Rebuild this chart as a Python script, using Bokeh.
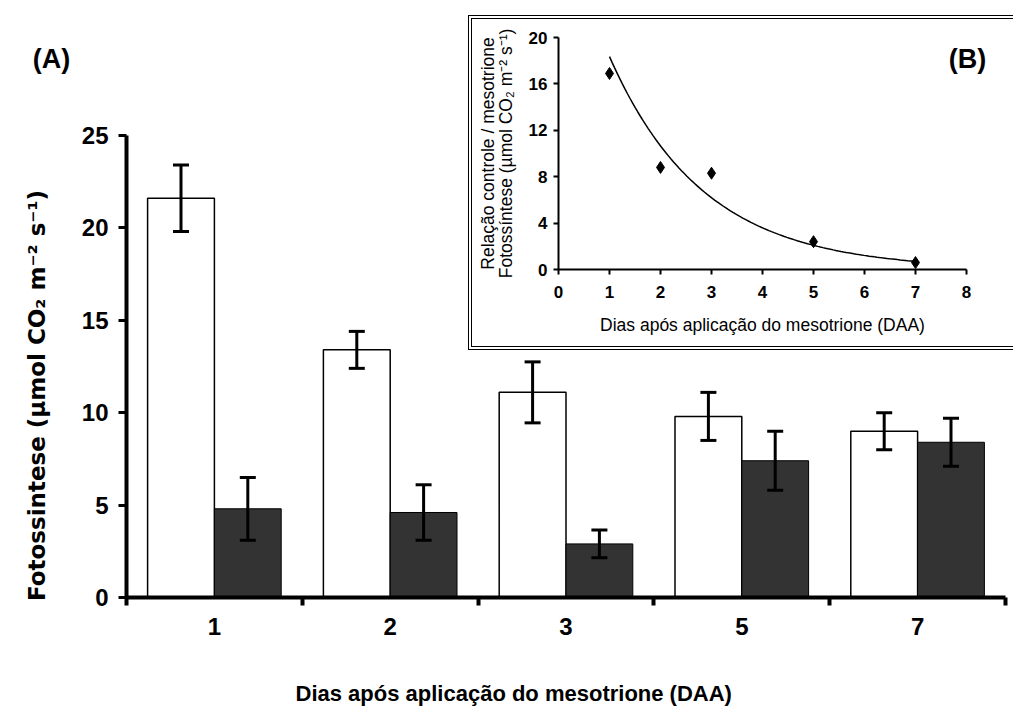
import numpy as np
from bokeh.plotting import figure
from bokeh.models import ColumnDataSource, Whisker, TeeHead, FixedTicker, Range1d, Title
from bokeh.core.properties import value
from bokeh.layouts import column
from bokeh.embed import file_html
from bokeh.resources import INLINE

# ---- data (A): photosynthesis by day ----
days = ["1", "2", "3", "5", "7"]
control = [21.6, 13.4, 11.1, 9.8, 9.0]
control_err = [1.8, 1.0, 1.65, 1.3, 1.0]
mesotrione = [4.8, 4.6, 2.9, 7.4, 8.4]
mesotrione_err = [1.7, 1.5, 0.75, 1.6, 1.3]
y_ticks = [0, 5, 10, 15, 20, 25]

# ---- data (B): ratio control / mesotrione ----
ratio_days = [1, 2, 3, 5, 7]
ratio = [16.9, 8.8, 8.3, 2.4, 0.6]
inset_x_ticks = [0, 1, 2, 3, 4, 5, 6, 7, 8]
inset_y_ticks = [0, 4, 8, 12, 16, 20]

FONT = "Liberation Sans"
DARK = "#333333"

pos = np.arange(1, len(days) + 1, dtype=float)
off = 0.19
bw = 0.38
src = ColumnDataSource(dict(
    xc=pos - off, xm=pos + off,
    control=control, meso=mesotrione,
    cu=np.array(control) + np.array(control_err),
    cl=np.array(control) - np.array(control_err),
    mu=np.array(mesotrione) + np.array(mesotrione_err),
    ml=np.array(mesotrione) - np.array(mesotrione_err),
))

p = figure(width=1013, height=711, x_range=Range1d(0.5, 5.5), y_range=Range1d(0, 25),
           output_backend="svg", toolbar_location=None,
           min_border_left=126, min_border_right=8, min_border_top=135, min_border_bottom=114)
p.outline_line_color = None
p.xgrid.visible = False
p.ygrid.visible = False
p.background_fill_color = "white"
p.border_fill_color = "white"

p.vbar(x="xc", top="control", bottom=0, width=bw, fill_color="white",
       line_color="black", line_width=1.5, source=src)
p.vbar(x="xm", top="meso", bottom=0, width=bw, fill_color=DARK,
       line_color="black", line_width=1, source=src)

for base, up, lo in (("xc", "cu", "cl"), ("xm", "mu", "ml")):
    p.add_layout(Whisker(source=src, base=base, upper=up, lower=lo, level="annotation",
                         line_color="black", line_width=3,
                         upper_head=TeeHead(size=16, line_width=3, line_color="black"),
                         lower_head=TeeHead(size=16, line_width=3, line_color="black")))

xa = p.xaxis[0]
xa.ticker = FixedTicker(ticks=list(pos), minor_ticks=list(pos - 0.5) + [pos[-1] + 0.5])
xa.major_label_overrides = {float(v): d for v, d in zip(pos, days)}
xa.major_tick_out = 0
xa.major_tick_in = 0
xa.minor_tick_out = 8
xa.minor_tick_in = 0
xa.minor_tick_line_width = 4
xa.axis_line_width = 4
xa.major_label_standoff = 12
xa.major_label_text_font = FONT
xa.major_label_text_font_style = "bold"
xa.major_label_text_font_size = "24px"
xa.major_label_text_color = "black"

ya = p.yaxis[0]
ya.ticker = FixedTicker(ticks=y_ticks)
ya.major_tick_out = 8
ya.major_tick_in = 0
ya.minor_tick_out = 0
ya.minor_tick_in = 0
ya.major_tick_line_width = 3
ya.axis_line_width = 4
ya.major_label_standoff = 10
ya.major_label_text_font = FONT
ya.major_label_text_font_style = "bold"
ya.major_label_text_font_size = "24px"
ya.major_label_text_color = "black"

# ---- inset (B) ----
q = figure(width=541, height=327, x_range=Range1d(0, 8), y_range=Range1d(0, 20),
           output_backend="svg", toolbar_location=None,
           min_border_left=86, min_border_right=47, min_border_top=18, min_border_bottom=77,
           styles={"outline": "4px double #000", "outline-offset": "0px",
                   "background-color": "white"})
q.outline_line_color = None
q.xgrid.visible = False
q.ygrid.visible = False

coef = np.polyfit(ratio_days, np.log(ratio), 1)
xs = np.linspace(min(ratio_days), max(ratio_days), 120)
q.line(xs, np.exp(coef[1] + coef[0] * xs), line_color="black", line_width=1.5)
q.scatter(ratio_days, ratio, marker="diamond", size=12, color="black")

for ax, ticks in ((q.xaxis[0], inset_x_ticks), (q.yaxis[0], inset_y_ticks)):
    ax.ticker = FixedTicker(ticks=ticks)
    ax.axis_line_width = 2
    ax.major_tick_out = 5
    ax.major_tick_in = 0
    ax.major_tick_line_width = 2
    ax.minor_tick_out = 0
    ax.minor_tick_in = 0
    ax.major_label_text_font = FONT
    ax.major_label_text_font_style = "bold"
    ax.major_label_text_font_size = "17px"
    ax.major_label_text_color = "black"
    ax.axis_label_text_font = FONT
    ax.axis_label_text_font_style = "normal"
    ax.axis_label_text_font_size = "17.5px"
    ax.axis_label_text_color = "black"

q.xaxis[0].major_label_standoff = 11
q.xaxis[0].axis_label = "Dias após aplicação do mesotrione (DAA)"
q.xaxis[0].axis_label_standoff = 14
q.yaxis[0].major_label_standoff = 6
q.yaxis[0].axis_label = "Fotossíntese (µmol CO₂ m⁻² s⁻¹)"
q.yaxis[0].axis_label_standoff = 10
q.add_layout(Title(text="Relação controle / mesotrione", align="center", standoff=-10,
                   text_font=FONT, text_font_style="normal", text_font_size="17.5px",
                   text_color="black"), "left")

# ---- transparent text layer (page pixel coordinates) for panel letters and main axis titles ----
W, H = 1013, 711
t = figure(width=W, height=H, x_range=Range1d(0, W), y_range=Range1d(H, 0),
           x_axis_type=None, y_axis_type=None, output_backend="svg", toolbar_location=None,
           min_border=0, min_border_left=0, min_border_right=0, min_border_top=0,
           min_border_bottom=0)
t.grid.visible = False
t.outline_line_color = None
t.background_fill_alpha = 0
t.border_fill_alpha = 0

t.text(x=[51, 967], y=[58, 58], text=["(A)", "(B)"], text_font=value(FONT),
       text_font_style="bold", text_font_size="27px", text_align="center",
       text_baseline="middle", text_color="black")
t.text(x=[36], y=[391], text=["Fotossintese  (µmol CO₂ m⁻² s⁻¹)"], angle=np.pi / 2,
       text_font=value("DejaVu Sans"), text_font_style="bold", text_font_size="23px",
       text_align="center", text_baseline="middle", text_color="black")
t.text(x=[295], y=[693], text=["Dias após aplicação  do mesotrione (DAA)"],
       text_font=value(FONT), text_font_style="bold", text_font_size="22px",
       text_align="left", text_baseline="middle", text_color="black")

inset_box = column(q, styles={"position": "absolute", "left": "472px", "top": "19px"})
text_box = column(t, styles={"position": "absolute", "left": "0px", "top": "0px"})

layout = column(p, inset_box, text_box, width=W, height=H, styles={"position": "relative"})

open("out.html", "w").write(file_html(layout, INLINE))
